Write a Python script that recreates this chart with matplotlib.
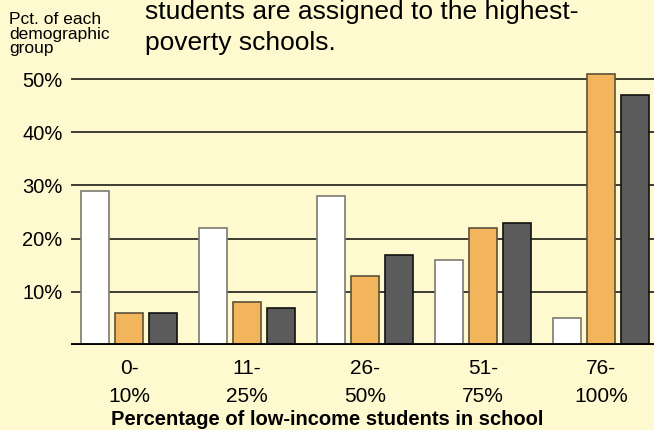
import matplotlib
matplotlib.use("Agg")
import matplotlib.pyplot as plt
import numpy as np

plt.rcParams['font.family'] = ['Liberation Sans', 'DejaVu Sans']

categories = ["0-\n10%", "11-\n25%", "26-\n50%", "51-\n75%", "76-\n100%"]
series_white = [29, 22, 28, 16, 5]
series_orange = [6, 8, 13, 22, 51]
series_dark = [6, 7, 17, 23, 47]
yticks = [10, 20, 30, 40, 50]
ytick_labels = ["10%", "20%", "30%", "40%", "50%"]
title_lines = ["students are assigned to the highest-", "poverty schools."]
side_label_lines = ["Pct. of each", "demographic", "group"]
xlabel = "Percentage of low-income students in school"

BG = "#FEF9CF"
W, H = 654, 430
fig = plt.figure(figsize=(W / 100, H / 100), dpi=100, facecolor=BG)

ax_left = 71 / W
ax_bottom = (H - 345) / H
ax_top = 0.985
ax = fig.add_axes([ax_left, ax_bottom, 1 - ax_left, ax_top - ax_bottom])
ax.set_facecolor(BG)

x = np.arange(len(categories))
bw = 28 / 118
step = 34 / 118
ax.bar(x - step, series_white, bw, color="white", edgecolor="#7a7a70", linewidth=1.2, zorder=3)
ax.bar(x, series_orange, bw, color="#F2B55C", edgecolor="#5e5238", linewidth=1.2, zorder=3)
ax.bar(x + step, series_dark, bw, color="#5B5B5B", edgecolor="#111111", linewidth=1.2, zorder=3)

ax.set_xlim(-58 / 118, 4 + 53 / 118)
ylim_top = (345 - H * (1 - ax_top)) / 5.317
ax.set_ylim(0, ylim_top)

for yv in yticks:
    ax.axhline(yv, color="#2e2e26", linewidth=1.3, zorder=1)
ax.axhline(0, color="black", linewidth=3.5, zorder=4)

ax.set_yticks(yticks)
ax.set_yticklabels(ytick_labels, fontsize=14.5)
ax.tick_params(axis='y', length=0, pad=6)
ax.set_xticks(x)
ax.set_xticklabels(categories, fontsize=15, linespacing=1.6)
ax.tick_params(axis='x', length=0, pad=10)
for s in ax.spines.values():
    s.set_visible(False)

fig.text(0.5, 1 - 425 / H, xlabel,
         ha="center", va="baseline", fontsize=14.5, fontweight="bold")

for i, line in enumerate(title_lines):
    fig.text(145 / W, 1 - (19.5 + 30.5 * i) / H, line,
             ha="left", va="baseline", fontsize=19)

for i, line in enumerate(side_label_lines):
    fig.text(9 / W, 1 - (24 + 14.5 * i) / H, line,
             ha="left", va="baseline", fontsize=12.5)

fig.savefig("out.png", dpi=100, facecolor=BG)
